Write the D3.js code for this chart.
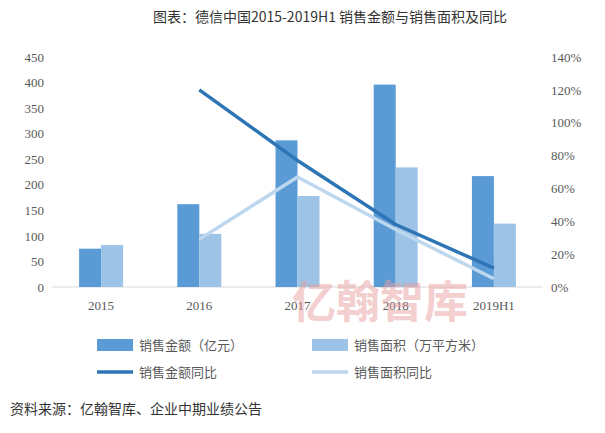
<!DOCTYPE html>
<html><head><meta charset="utf-8">
<script src="https://cdn.jsdelivr.net/npm/d3@7"></script>
<style>body{margin:0;background:#fff}text{font-family:"Noto Sans CJK SC","Liberation Serif",serif}</style>
</head><body><svg id="c" width="605" height="433"></svg>
<script>
const categories=["2015","2016","2017","2018","2019H1"];
const salesAmount=[75,162,287,396,217];
const salesArea=[82,104,178,234,124];
const amountYoY=[null,120,77,38,11.5];
const areaYoY=[null,29,67,35,5];
const leftTicks=[0,50,100,150,200,250,300,350,400,450];
const rightTicks=[0,20,40,60,80,100,120,140];

const svg=d3.select("#c");
const L=52,R=543,T=57,B=287;
const x=d3.scaleBand().domain(categories).range([L,R]);
const yl=d3.scaleLinear().domain([0,450]).range([B,T]);
const yr=d3.scaleLinear().domain([0,140]).range([B,T]);
const ser="'Liberation Serif',serif";

svg.append("text").attr("x",330).attr("y",22).attr("text-anchor","middle").attr("font-size",14).attr("fill","#333").text("图表：德信中国2015-2019H1 销售金额与销售面积及同比");

const gl=svg.append("g").attr("transform",`translate(${L},0)`).call(d3.axisLeft(yl).tickValues(leftTicks).tickSize(0).tickPadding(8));
gl.select(".domain").remove();
gl.selectAll("text").attr("font-size",13).attr("fill","#595959").style("font-family",ser);
const gr=svg.append("g").attr("transform",`translate(${R},0)`).call(d3.axisRight(yr).tickValues(rightTicks).tickFormat(d=>d+"%").tickSize(0).tickPadding(8));
gr.select(".domain").remove();
gr.selectAll("text").attr("font-size",13).attr("fill","#595959").style("font-family",ser);
svg.append("line").attr("x1",L).attr("x2",R).attr("y1",B).attr("y2",B).attr("stroke","#d9d9d9");
const gx=svg.append("g").attr("transform",`translate(0,${B})`).call(d3.axisBottom(x).tickSize(0).tickPadding(14));
gx.select(".domain").remove();
gx.selectAll("text").attr("font-size",13).attr("fill","#595959").style("font-family",ser);

const bw=22;
svg.selectAll(".b1").data(categories).enter().append("rect").attr("x",d=>x(d)+x.bandwidth()/2-bw).attr("width",bw)
 .attr("y",(d,i)=>yl(salesAmount[i])).attr("height",(d,i)=>B-yl(salesAmount[i])).attr("fill","#5b9bd5");
svg.selectAll(".b2").data(categories).enter().append("rect").attr("x",d=>x(d)+x.bandwidth()/2).attr("width",bw)
 .attr("y",(d,i)=>yl(salesArea[i])).attr("height",(d,i)=>B-yl(salesArea[i])).attr("fill","#9dc3e6");

const line=d3.line().defined(d=>d[1]!=null).x(d=>x(d[0])+x.bandwidth()/2).y(d=>yr(d[1]));
svg.append("path").attr("d",line(categories.map((c,i)=>[c,areaYoY[i]]))).attr("fill","none").attr("stroke","#bdd7ee").attr("stroke-width",3.5);
svg.append("path").attr("d",line(categories.map((c,i)=>[c,amountYoY[i]]))).attr("fill","none").attr("stroke","#2e75b6").attr("stroke-width",3.5);

svg.append("text").attr("x",380).attr("y",318).attr("text-anchor","middle").attr("font-size",44).attr("font-weight","bold").attr("fill","#e8a0a0").attr("opacity",0.5).text("亿翰智库");

const lg=[["rect","#5b9bd5","销售金额（亿元）",97,345],["rect","#9dc3e6","销售面积（万平方米）",312,345],["line","#2e75b6","销售金额同比",97,372],["line","#bdd7ee","销售面积同比",312,372]];
lg.forEach(([t,c,s,lx,ly])=>{
 if(t=="rect")svg.append("rect").attr("x",lx).attr("y",ly-6).attr("width",36).attr("height",12).attr("fill",c);
 else svg.append("line").attr("x1",lx).attr("x2",lx+36).attr("y1",ly).attr("y2",ly).attr("stroke",c).attr("stroke-width",3.5);
 svg.append("text").attr("x",lx+42).attr("y",ly+5).attr("font-size",13).attr("fill","#595959").text(s);
});
svg.append("text").attr("x",10).attr("y",414).attr("font-size",14).attr("fill","#333").text("资料来源：亿翰智库、企业中期业绩公告");
</script></body></html>
